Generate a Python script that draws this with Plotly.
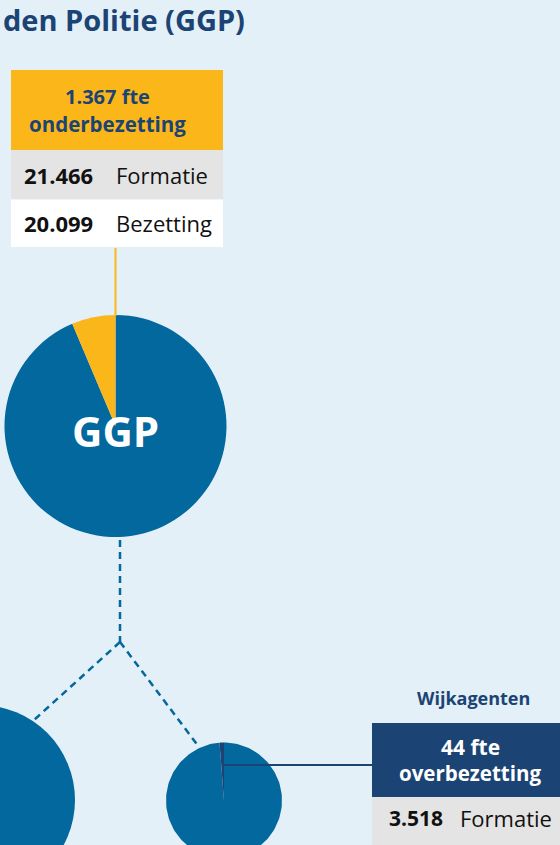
import math
import plotly.graph_objects as go

# ---- data ----
title_text = "den Politie (GGP)"
ggp_label = "GGP"
ggp_formatie = 21466
ggp_bezetting = 20099
wijk_label = "Wijkagenten"
wijk_formatie = 3518
wijk_bezetting = 3562
row_labels = ["Formatie", "Bezetting"]

# ---- style ----
BG = "#E4F0F8"
BLUE = "#02689D"
YELLOW = "#FBB619"
NAVY = "#1B4474"
GRAY = "#E4E4E4"
FONT = "Open Sans"
W, H = 560, 845


def fmt(v):
    return f"{v:,}".replace(",", ".")


def dom(cx, cy, r):
    return dict(x=[(cx - r) / W, (cx + r) / W], y=[1 - (cy + r) / H, 1 - (cy - r) / H])


ggp_diff = ggp_formatie - ggp_bezetting
wijk_diff = wijk_bezetting - wijk_formatie

fig = go.Figure()

# GGP pie: bezetting (blue) + onderbezetting (yellow)
fig.add_trace(go.Pie(
    values=[ggp_bezetting, ggp_diff], labels=["Bezetting", "Onderbezetting"],
    marker=dict(colors=[BLUE, YELLOW], line=dict(width=0)),
    sort=False, direction="clockwise", rotation=0, textinfo="none",
    hoverinfo="skip", showlegend=False, domain=dom(115.5, 426, 111)))


# Wijkagenten pie (partly below the page edge) as filled wedges on pixel axes
def wedge(cx, cy, r, a0, a1):
    n = max(2, int(abs(a1 - a0) / 2) + 2)
    xs, ys = [cx], [cy]
    for i in range(n + 1):
        a = math.radians(a0 + (a1 - a0) * i / n)
        xs.append(cx + r * math.sin(a))
        ys.append(cy - r * math.cos(a))
    xs.append(cx)
    ys.append(cy)
    return xs, ys


wijk_vals = [wijk_formatie, wijk_diff]
wijk_cols = [BLUE, NAVY]
tot = sum(wijk_vals)
start = 0.0
for v, c in zip(wijk_vals, wijk_cols):
    end = start + 360.0 * v / tot
    xs, ys = wedge(224, 800.5, 58, start, end)
    fig.add_trace(go.Scatter(x=xs, y=ys, mode="lines", fill="toself", fillcolor=c,
                             line=dict(width=0, color=c), hoverinfo="skip", showlegend=False))
    start = end

shapes = []
# left (cropped) circle
shapes.append(dict(type="circle", xref="x", yref="y", x0=-20 - 95, x1=-20 + 95,
                   y0=800 - 95, y1=800 + 95, fillcolor=BLUE, line=dict(width=0), layer="below"))
# dashed connectors
dash = dict(color=BLUE, width=2.5, dash="7px,5px")
shapes.append(dict(type="line", xref="x", yref="y", x0=120, y0=540, x1=120, y1=642, line=dash))
shapes.append(dict(type="line", xref="x", yref="y", x0=120, y0=642, x1=34, y1=720, line=dash))
shapes.append(dict(type="line", xref="x", yref="y", x0=120, y0=642, x1=199, y1=747, line=dash))
# yellow connector
shapes.append(dict(type="line", xref="x", yref="y", x0=115.5, y0=248, x1=115.5, y1=316,
                   line=dict(color=YELLOW, width=2)))
# navy connector
shapes.append(dict(type="line", xref="x", yref="y", x0=224, y0=765, x1=372, y1=765,
                   line=dict(color=NAVY, width=2)))
# GGP box
shapes.append(dict(type="rect", xref="x", yref="y", x0=11, x1=223, y0=70, y1=150,
                   fillcolor=YELLOW, line=dict(width=0)))
shapes.append(dict(type="rect", xref="x", yref="y", x0=11, x1=223, y0=150, y1=199.5,
                   fillcolor=GRAY, line=dict(width=0)))
shapes.append(dict(type="rect", xref="x", yref="y", x0=11, x1=223, y0=199.5, y1=247,
                   fillcolor="white", line=dict(width=0)))
# Wijk box
shapes.append(dict(type="rect", xref="x", yref="y", x0=372, x1=570, y0=723, y1=797,
                   fillcolor=NAVY, line=dict(width=0)))
shapes.append(dict(type="rect", xref="x", yref="y", x0=372, x1=570, y0=797, y1=846,
                   fillcolor=GRAY, line=dict(width=0)))

ann = []


def txt(x, y, t, size, color, weight="normal", xanchor="center"):
    ann.append(dict(x=x, y=y, xref="x", yref="y", text=t,
                    showarrow=False, xanchor=xanchor, yanchor="middle",
                    font=dict(family=FONT, size=size, color=color, weight=weight)))


txt(1, 19, title_text, 29, NAVY, "bold", "left")
txt(107, 96, f"{fmt(ggp_diff)} fte", 20, NAVY, "bold")
txt(107, 124, "onderbezetting", 20.5, NAVY, "bold")
txt(22, 175, fmt(ggp_formatie), 22, "#111111", "bold", "left")
txt(114, 175, row_labels[0], 22, "#111111", "normal", "left")
txt(22, 223, fmt(ggp_bezetting), 22, "#111111", "bold", "left")
txt(114, 223, row_labels[1], 22, "#111111", "normal", "left")
txt(115.5, 430, ggp_label, 42, "white", "bold")

txt(473, 698, wijk_label, 18, NAVY, "bold")
txt(470, 747, f"{fmt(wijk_diff)} fte", 21, "white", "bold")
txt(470, 773, "overbezetting", 20.5, "white", "bold")
txt(387, 818, fmt(wijk_formatie), 21, "#111111", "bold", "left")
txt(458, 818, row_labels[0], 22, "#111111", "normal", "left")

fig.update_layout(
    width=W, height=H, margin=dict(l=0, r=0, t=0, b=0),
    paper_bgcolor=BG, plot_bgcolor=BG,
    xaxis=dict(range=[0, W], visible=False, fixedrange=True),
    yaxis=dict(range=[H, 0], visible=False, fixedrange=True),
    shapes=shapes, annotations=ann, showlegend=False)

fig.write_html("out.html", config={"displayModeBar": False},
               post_script="document.body.style.margin='0';document.body.style.overflow='hidden';")
